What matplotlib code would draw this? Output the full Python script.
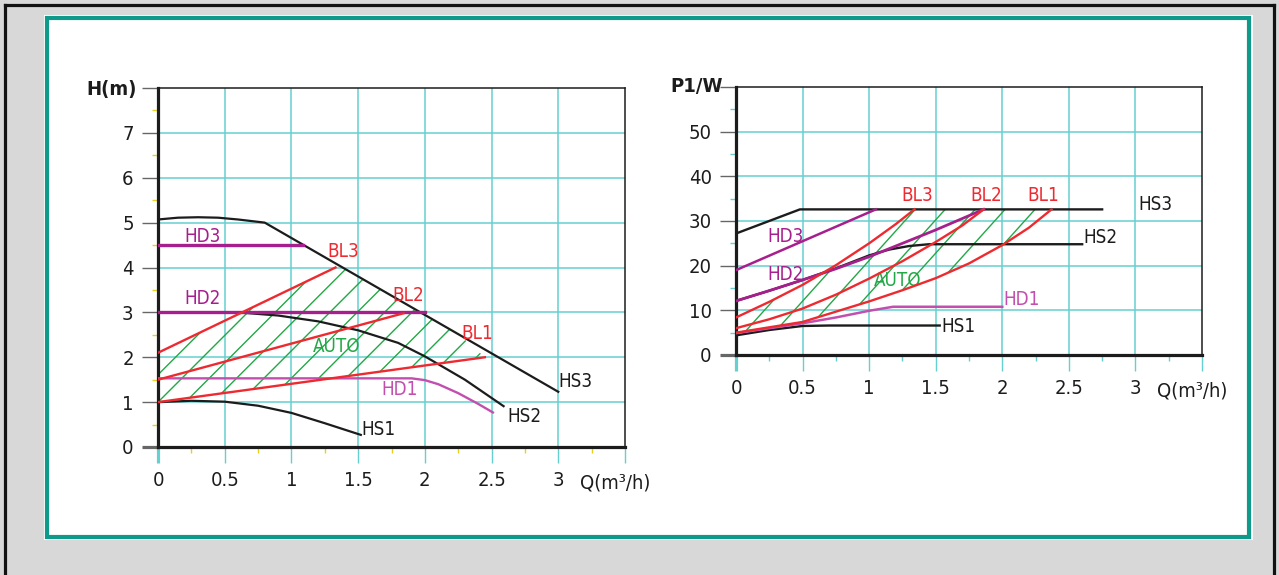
import numpy as np
import matplotlib
matplotlib.use("Agg")
import matplotlib.pyplot as plt
from matplotlib import font_manager as fm
from matplotlib.patches import Polygon, Rectangle
from matplotlib.lines import Line2D

# ---------------- data: head curves H(m) vs Q(m3/h) ----------------
q_ticks = [0, 0.5, 1, 1.5, 2, 2.5, 3]
q_tick_labels = ["0", "0.5", "1", "1.5", "2", "2.5", "3"]
h_ticks = [0, 1, 2, 3, 4, 5, 6, 7]
p_ticks = [0, 10, 20, 30, 40, 50]

h_hs3_q = [0, 0.15, 0.3, 0.45, 0.6, 0.8, 3.0]
h_hs3 = [5.07, 5.11, 5.12, 5.11, 5.07, 5.0, 1.23]
h_hs2_q = [0, 0.6, 0.9, 1.2, 1.5, 1.8, 2.0, 2.3, 2.59]
h_hs2 = [3.0, 3.0, 2.93, 2.8, 2.6, 2.32, 2.02, 1.5, 0.91]
h_hs1_q = [0, 0.25, 0.5, 0.75, 1.0, 1.25, 1.52]
h_hs1 = [1.0, 1.03, 1.01, 0.92, 0.76, 0.53, 0.27]

h_hd3_q = [0, 1.09]
h_hd3 = [4.5, 4.5]
h_hd2_q = [0, 2.0]
h_hd2 = [3.0, 3.0]
h_hd1_q = [0, 1.9, 2.0, 2.1, 2.25, 2.4, 2.51]
h_hd1 = [1.53, 1.53, 1.49, 1.40, 1.2, 0.96, 0.77]

h_bl3_q = [0, 1.33]
h_bl3 = [2.1, 4.0]
h_bl2_q = [0, 1.84]
h_bl2 = [1.5, 2.98]
h_bl1_q = [0, 2.45]
h_bl1 = [1.0, 2.0]

# ---------------- data: power curves P1(W) vs Q(m3/h) ----------------
p_hs3_q = [0, 0.48, 2.75]
p_hs3 = [27.2, 32.6, 32.6]
p_hs2_q = [0, 0.25, 0.5, 0.75, 1.0, 1.15, 1.3, 1.45, 2.6]
p_hs2 = [12.1, 14.4, 16.8, 19.4, 22.3, 23.6, 24.4, 24.8, 24.8]
p_hs1_q = [0, 0.25, 0.5, 0.7, 1.53]
p_hs1 = [4.4, 5.6, 6.5, 6.6, 6.6]

p_hd3_q = [0, 1.05]
p_hd3 = [19.0, 32.6]
p_hd2_q = [0, 0.25, 0.5, 0.75, 1.0, 1.25, 1.5, 1.86]
p_hd2 = [12.1, 14.4, 16.8, 19.3, 22.0, 25.0, 28.0, 32.6]
p_hd1_q = [0, 0.25, 0.5, 0.75, 1.0, 1.18, 2.0]
p_hd1 = [4.9, 6.0, 7.1, 8.4, 9.9, 10.8, 10.8]

p_bl3_q = [0, 0.25, 0.5, 0.75, 1.0, 1.2, 1.34]
p_bl3 = [8.4, 11.9, 15.7, 20.1, 25.0, 29.3, 32.6]
p_bl2_q = [0, 0.25, 0.5, 0.75, 1.0, 1.25, 1.5, 1.7, 1.86]
p_bl2 = [6.0, 8.0, 10.4, 13.5, 17.1, 21.0, 25.3, 29.0, 32.6]
p_bl1_q = [0, 0.5, 1.0, 1.25, 1.5, 1.75, 2.0, 2.2, 2.37]
p_bl1 = [5.0, 7.4, 12.0, 14.5, 17.2, 20.5, 24.6, 28.5, 32.6]

# ---------------- styling ----------------
BLACK = "#1c1c1c"
RED = "#ee2a30"
PURPLE = "#a71f8c"
PINK = "#c24fae"
GREEN = "#22a846"
GRID = "#66d0d0"
YELLOW = "#e6d21a"
TEAL = "#0e9a8b"


def pick_font():
    fonts = fm.fontManager.ttflist
    for f in fonts:
        if f.name == "DejaVu Sans" and f.stretch in ("condensed", "semi-condensed"):
            return dict(family="DejaVu Sans", stretch="condensed")
    names = {f.name for f in fonts}
    for n in ("Liberation Sans Narrow", "Roboto Condensed", "Open Sans Condensed"):
        if n in names:
            return dict(family=n)
    return dict(family="DejaVu Sans")


FONT = pick_font()

fig = plt.figure(figsize=(12.79, 5.75), dpi=100)
fig.patch.set_facecolor("#d8d8d8")
W, H = 1279.0, 575.0


def fx(px):
    return px / W


def fy(py):
    return 1 - py / H


# outer black border
for xs, ys in [((fx(5), fx(5)), (0, fy(5))),
               ((fx(5), fx(1274)), (fy(5), fy(5))),
               ((fx(1274), fx(1274)), (0, fy(5)))]:
    fig.add_artist(Line2D(xs, ys, color="#111111", lw=2.3, zorder=-3))

# white panel with teal frame
fig.add_artist(Rectangle((fx(44), fy(540)), fx(1253) - fx(44), fy(15) - fy(540),
                         facecolor="white", edgecolor="none", zorder=-2))
fig.add_artist(Rectangle((fx(47), fy(537)), fx(1249) - fx(47), fy(18) - fy(537),
                         facecolor="white", edgecolor=TEAL, lw=3.0, zorder=-1))


def setup_axes(rect, ymax, yticks, minor_y, minor_color, ylabel_txt, ylabel_xy):
    ax = fig.add_axes(rect)
    ax.set_facecolor("none")
    ax.set_xlim(0, 3.5)
    ax.set_ylim(0, ymax)
    ax.set_axisbelow(True)
    xt = q_ticks + [3.5]
    ax.set_xticks(xt)
    ax.set_xticklabels(q_tick_labels + [""])
    yt = yticks + [ymax]
    ax.set_yticks(yt)
    ax.set_yticklabels([str(v) for v in yticks] + [""])
    ax.set_xticks(np.arange(0.25, 3.5, 0.5), minor=True)
    ax.set_yticks(minor_y, minor=True)
    ax.grid(True, which="major", color=GRID, lw=1.1)
    ax.tick_params(which="major", direction="out", length=11.5, width=1.0, pad=6)
    ax.tick_params(axis="x", which="major", colors=GRID, labelcolor=BLACK)
    ax.tick_params(axis="y", which="major", colors="#666666", labelcolor=BLACK)
    ax.tick_params(which="minor", direction="out", length=4.5, width=1.0, colors=minor_color)
    for lab in ax.get_xticklabels() + ax.get_yticklabels():
        lab.set_fontsize(14.5)
        lab.set_fontfamily(FONT["family"])
        if "stretch" in FONT:
            lab.set_fontstretch(FONT["stretch"])
    # thick axes and their extensions beyond the origin
    for s in ("left", "bottom"):
        ax.spines[s].set_linewidth(2.3)
        ax.spines[s].set_color(BLACK)
    for s in ("top", "right"):
        ax.spines[s].set_linewidth(1.1)
        ax.spines[s].set_color(BLACK)
    xticks_major = ax.xaxis.get_major_ticks()
    yticks_major = ax.yaxis.get_major_ticks()
    xticks_major[0].tick1line.set_color(BLACK)
    xticks_major[0].tick1line.set_markeredgewidth(2.3)
    xticks_major[0].gridline.set_visible(False)
    xticks_major[-1].tick1line.set_color(BLACK)
    xticks_major[-1].gridline.set_visible(False)
    yticks_major[0].tick1line.set_color(BLACK)
    yticks_major[0].tick1line.set_markeredgewidth(2.3)
    yticks_major[0].gridline.set_visible(False)
    yticks_major[-1].tick1line.set_color(BLACK)
    yticks_major[-1].gridline.set_visible(False)
    ax.text(ylabel_xy[0], ylabel_xy[1], ylabel_txt, transform=ax.transAxes,
            ha="center", va="center", fontsize=14.5, fontweight="bold", color=BLACK, **FONT)
    return ax


def hatch(ax, poly, slope, step, q_anchor, h_anchor):
    patch = Polygon(poly, closed=True, facecolor="none", edgecolor="none",
                    transform=ax.transData)
    ax.add_patch(patch)
    base = q_anchor - h_anchor / slope
    q0s = base + step * np.arange(-40, 40)
    for q0 in q0s:
        ln, = ax.plot([q0, q0 + 4], [0, slope * 4], color=GREEN, lw=1.0, zorder=2)
        ln.set_clip_path(patch)


def label(ax, x, y, s, color, size=13.5):
    ax.text(x, y, s, color=color, fontsize=size, ha="center", va="center", **FONT)


# ---------------- left chart: head ----------------
axL = setup_axes([fx(158), fy(447), fx(625) - fx(158), fy(88) - fy(447)],
                 8, h_ticks, np.arange(0.5, 8, 1.0), YELLOW,
                 "H(m)", (-0.1, 0.997))
axL.text(0.979, -0.1, "Q(m³/h)", transform=axL.transAxes, ha="center", va="center",
         fontsize=14.5, color=BLACK, **FONT)

poly_L = (list(zip(h_bl1_q, h_bl1)) + [(2.25, 2.52), (1.383, 4.0)]
          + list(zip(h_bl3_q[::-1], h_bl3[::-1])))
hatch(axL, poly_L, slope=(467 / 3.5) / (359 / 8.0), step=0.205, q_anchor=0.0, h_anchor=1.0)

for q, h in [(h_hs3_q, h_hs3), (h_hs2_q, h_hs2), (h_hs1_q, h_hs1)]:
    axL.plot(q, h, color=BLACK, lw=1.6, zorder=3)
axL.plot(h_hd3_q, h_hd3, color=PURPLE, lw=2.4, zorder=4)
axL.plot(h_hd2_q, h_hd2, color=PURPLE, lw=2.4, zorder=4)
axL.plot(h_hd1_q, h_hd1, color=PINK, lw=1.7, zorder=4)
for q, h in [(h_bl3_q, h_bl3), (h_bl2_q, h_bl2), (h_bl1_q, h_bl1)]:
    axL.plot(q, h, color=RED, lw=1.7, zorder=5)

label(axL, 0.337, 4.70, "HD3", PURPLE)
label(axL, 0.337, 3.32, "HD2", PURPLE)
label(axL, 1.814, 1.29, "HD1", PINK)
label(axL, 1.387, 4.35, "BL3", RED)
label(axL, 1.874, 3.37, "BL2", RED)
label(axL, 2.39, 2.52, "BL1", RED)
label(axL, 1.342, 2.23, "AUTO", GREEN)
label(axL, 3.126, 1.47, "HS3", BLACK)
label(axL, 2.744, 0.69, "HS2", BLACK)
label(axL, 1.649, 0.38, "HS1", BLACK)

# ---------------- right chart: power ----------------
axR = setup_axes([fx(736), fy(355), fx(1202) - fx(736), fy(87) - fy(355)],
                 60, p_ticks, np.arange(5, 60, 10), GRID,
                 "P1/W", (-0.084, 1.0))
axR.text(0.979, -0.134, "Q(m³/h)", transform=axR.transAxes, ha="center", va="center",
         fontsize=14.5, color=BLACK, **FONT)

poly_R = (list(zip(p_bl1_q, p_bl1)) + [(1.34, 32.6)]
          + list(zip(p_bl3_q[::-1], p_bl3[::-1])))
hatch(axR, poly_R, slope=1.11 * (466 / 3.5) / (268 / 60.0), step=0.225,
      q_anchor=0.092, h_anchor=6.0)

for q, p in [(p_hs3_q, p_hs3), (p_hs2_q, p_hs2), (p_hs1_q, p_hs1)]:
    axR.plot(q, p, color=BLACK, lw=1.7, zorder=3)
axR.plot(p_hd3_q, p_hd3, color=PURPLE, lw=1.8, zorder=4)
axR.plot(p_hd2_q, p_hd2, color=PURPLE, lw=2.0, zorder=4)
axR.plot(p_hd1_q, p_hd1, color=PINK, lw=1.8, zorder=4)
for q, p in [(p_bl3_q, p_bl3), (p_bl2_q, p_bl2), (p_bl1_q, p_bl1)]:
    axR.plot(q, p, color=RED, lw=1.7, zorder=5)

label(axR, 0.375, 26.6, "HD3", PURPLE)
label(axR, 0.375, 18.1, "HD2", PURPLE)
label(axR, 2.147, 12.5, "HD1", PINK)
label(axR, 1.359, 35.6, "BL3", RED)
label(axR, 1.877, 35.6, "BL2", RED)
label(axR, 2.305, 35.6, "BL1", RED)
label(axR, 1.216, 16.6, "AUTO", GREEN)
label(axR, 3.153, 33.8, "HS3", BLACK)
label(axR, 2.74, 26.2, "HS2", BLACK)
label(axR, 1.667, 6.3, "HS1", BLACK)

fig.savefig("out.png", dpi=100, facecolor=fig.get_facecolor())
